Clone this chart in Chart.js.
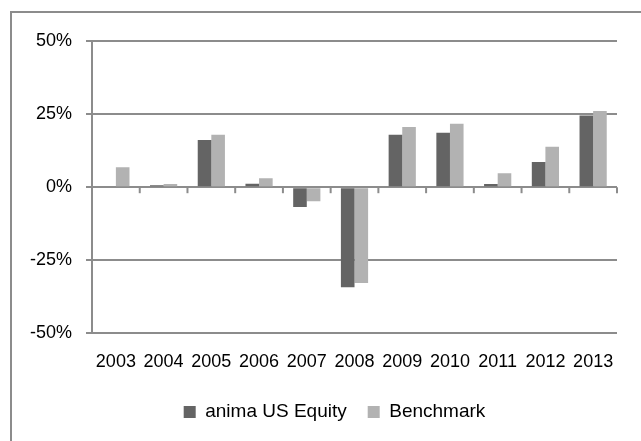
<!DOCTYPE html>
<html>
<head>
<meta charset="utf-8">
<script src="https://cdn.jsdelivr.net/npm/chart.js@4.4.1/dist/chart.umd.min.js"></script>
<style>
  html, body { margin: 0; padding: 0; background: #fff; }
  #wrap { position: relative; width: 641px; height: 441px; overflow: hidden; }
  #frame { position: absolute; left: 10px; top: 11px; width: 700px; height: 500px;
           border-left: 2px solid #8c8c8c; border-top: 2px solid #8c8c8c; }
  canvas { position: absolute; left: 0; top: 0; }
</style>
</head>
<body>
<div id="wrap">
  <div id="frame"></div>
  <canvas id="chart" width="641" height="441"></canvas>
</div>
<script>
var years = ["2003", "2004", "2005", "2006", "2007", "2008", "2009", "2010", "2011", "2012", "2013"];
var animaUS = [null, 0.7, 16.1, 1.2, -6.8, -34.2, 17.9, 18.6, 1.1, 8.6, 24.5];
var benchmark = [6.8, 1.1, 17.9, 3.1, -4.8, -32.8, 20.6, 21.7, 4.8, 13.8, 26.1];
var yTicks = [-50, -25, 0, 25, 50];

var gridColor = '#8c8c8c';
var fontFamily = '"Liberation Sans", Arial, sans-serif';

// small tick marks on the zero line between categories
var zeroTicks = {
    id: 'zeroTicks',
    beforeDatasetsDraw: function (chart) {
        var x = chart.scales.x, y = chart.scales.y;
        var y0 = y.getPixelForValue(0);
        var step = x.getPixelForValue(1) - x.getPixelForValue(0);
        var c = chart.ctx;
        c.save();
        c.strokeStyle = gridColor;
        c.lineWidth = 2;
        for (var i = 0; i <= years.length; i++) {
            var px = x.getPixelForValue(0) + (i - 0.5) * step;
            c.beginPath();
            c.moveTo(px, y0);
            c.lineTo(px, y0 + 6);
            c.stroke();
        }
        c.restore();
    }
};

// nudge the legend up and a bit right, like the original
var legendNudge = {
    id: 'legendNudge',
    afterLayout: function (chart) {
        var lg = chart.legend;
        lg.top -= 9.5;
        lg.bottom -= 9.5;
        lg.left += 36;
    }
};

var ctx = document.getElementById("chart");
var myChart = new Chart(ctx, {
    type: 'bar',
    data: {
        labels: years,
        datasets: [{
            label: 'anima US Equity',
            data: animaUS,
            backgroundColor: '#646464',
            borderWidth: 0
        }, {
            label: 'Benchmark',
            data: benchmark,
            backgroundColor: '#b2b2b2',
            borderWidth: 0
        }]
    },
    options: {
        responsive: false,
        animation: false,
        events: [],
        layout: {
            padding: { left: 16, right: 24, top: 41, bottom: 0 }
        },
        datasets: {
            bar: { barPercentage: 1, categoryPercentage: 0.57 }
        },
        scales: {
            x: {
                grid: { display: false, drawTicks: false },
                border: { display: false },
                ticks: {
                    color: '#000',
                    padding: 18,
                    maxRotation: 0,
                    font: { family: fontFamily, size: 18 }
                }
            },
            y: {
                min: -50,
                max: 50,
                afterBuildTicks: function (axis) {
                    axis.ticks = yTicks.map(function (v) { return { value: v }; });
                },
                grid: { color: gridColor, lineWidth: 2, tickLength: 6 },
                border: { color: gridColor, width: 2 },
                ticks: {
                    color: '#000',
                    padding: 14,
                    font: { family: fontFamily, size: 18 },
                    callback: function (v) { return v + '%'; }
                }
            }
        },
        plugins: {
            legend: {
                position: 'bottom',
                labels: {
                    color: '#000',
                    boxWidth: 12,
                    boxHeight: 12,
                    padding: 21,
                    font: { family: fontFamily, size: 19 }
                }
            },
            tooltip: { enabled: false }
        }
    },
    plugins: [zeroTicks, legendNudge]
});
</script>
</body>
</html>
